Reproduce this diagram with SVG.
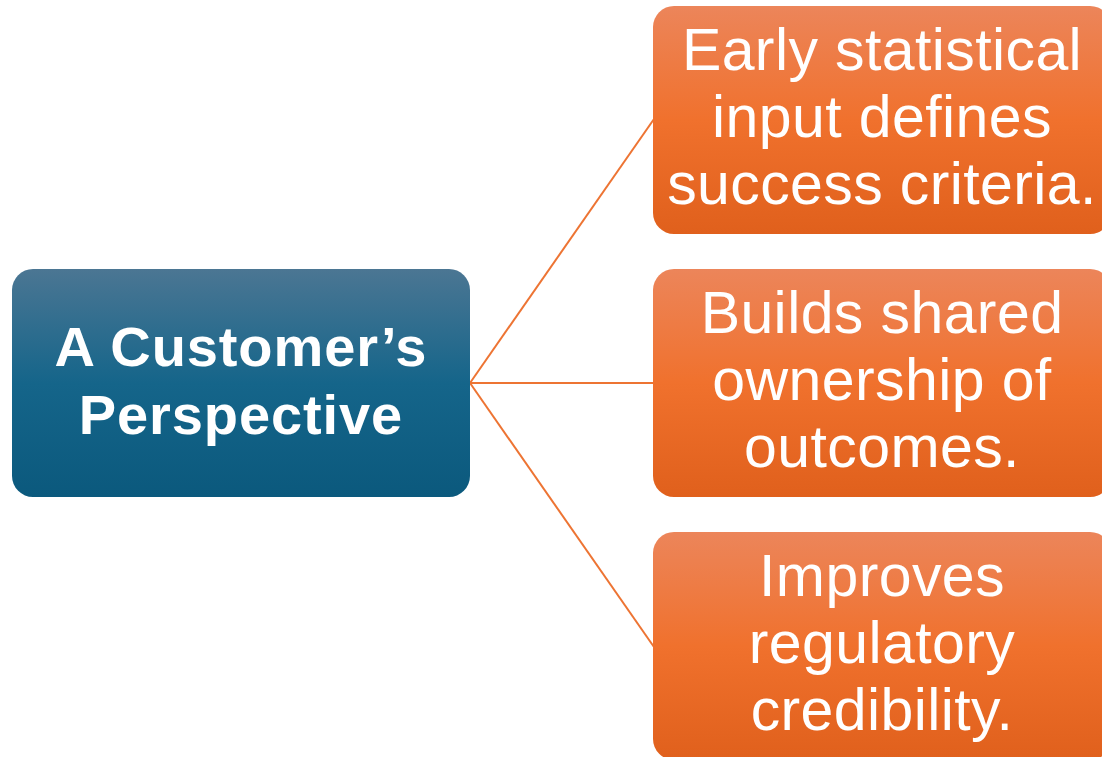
<svg xmlns="http://www.w3.org/2000/svg" width="1102" height="757" viewBox="0 0 1102 757">
<defs>
<linearGradient id="gBlue" x1="0" y1="0" x2="0" y2="1">
<stop offset="0" stop-color="#4b7693"/>
<stop offset="0.5" stop-color="#15658a"/>
<stop offset="1" stop-color="#0b597d"/>
</linearGradient>
<linearGradient id="gOrange" x1="0" y1="0" x2="0" y2="1">
<stop offset="0" stop-color="#ec855a"/>
<stop offset="0.5" stop-color="#f0712d"/>
<stop offset="1" stop-color="#e0601c"/>
</linearGradient>
<style>
.conn{stroke:#ed7433;stroke-width:2;fill:none}
.root{fill:url(#gBlue)}
.leaf{fill:url(#gOrange)}
.rt{font-family:"Liberation Sans",Arial,sans-serif;font-weight:bold;font-size:56px;letter-spacing:0.9px;fill:#ffffff;text-anchor:middle}
.lt{font-family:"Liberation Sans",Arial,sans-serif;font-size:59px;letter-spacing:0.4px;fill:#ffffff;text-anchor:middle}
</style>
</defs>
<rect width="1102" height="757" fill="#ffffff"/>
<g id="connectors">
<line class="conn" x1="470" y1="383" x2="654" y2="119"/>
<line class="conn" x1="470" y1="383" x2="654" y2="383"/>
<line class="conn" x1="470" y1="383" x2="654" y2="647"/>
</g>
<g id="root">
<rect class="root" x="12" y="269" width="458" height="228" rx="21"/>
<text class="rt" x="241" y="366">A Customer’s</text>
<text class="rt" x="241" y="434">Perspective</text>
</g>
<g id="leaf1">
<rect class="leaf" x="653" y="6" width="458" height="228" rx="21"/>
<text class="lt" x="882" y="70">Early statistical</text>
<text class="lt" x="882" y="137">input defines</text>
<text class="lt" x="882" y="204">success criteria.</text>
</g>
<g id="leaf2">
<rect class="leaf" x="653" y="269" width="458" height="228" rx="21"/>
<text class="lt" x="882" y="333">Builds shared</text>
<text class="lt" x="882" y="400">ownership of</text>
<text class="lt" x="882" y="467">outcomes.</text>
</g>
<g id="leaf3">
<rect class="leaf" x="653" y="532" width="458" height="228" rx="21"/>
<text class="lt" x="882" y="596">Improves</text>
<text class="lt" x="882" y="663">regulatory</text>
<text class="lt" x="882" y="730">credibility.</text>
</g>
</svg>
